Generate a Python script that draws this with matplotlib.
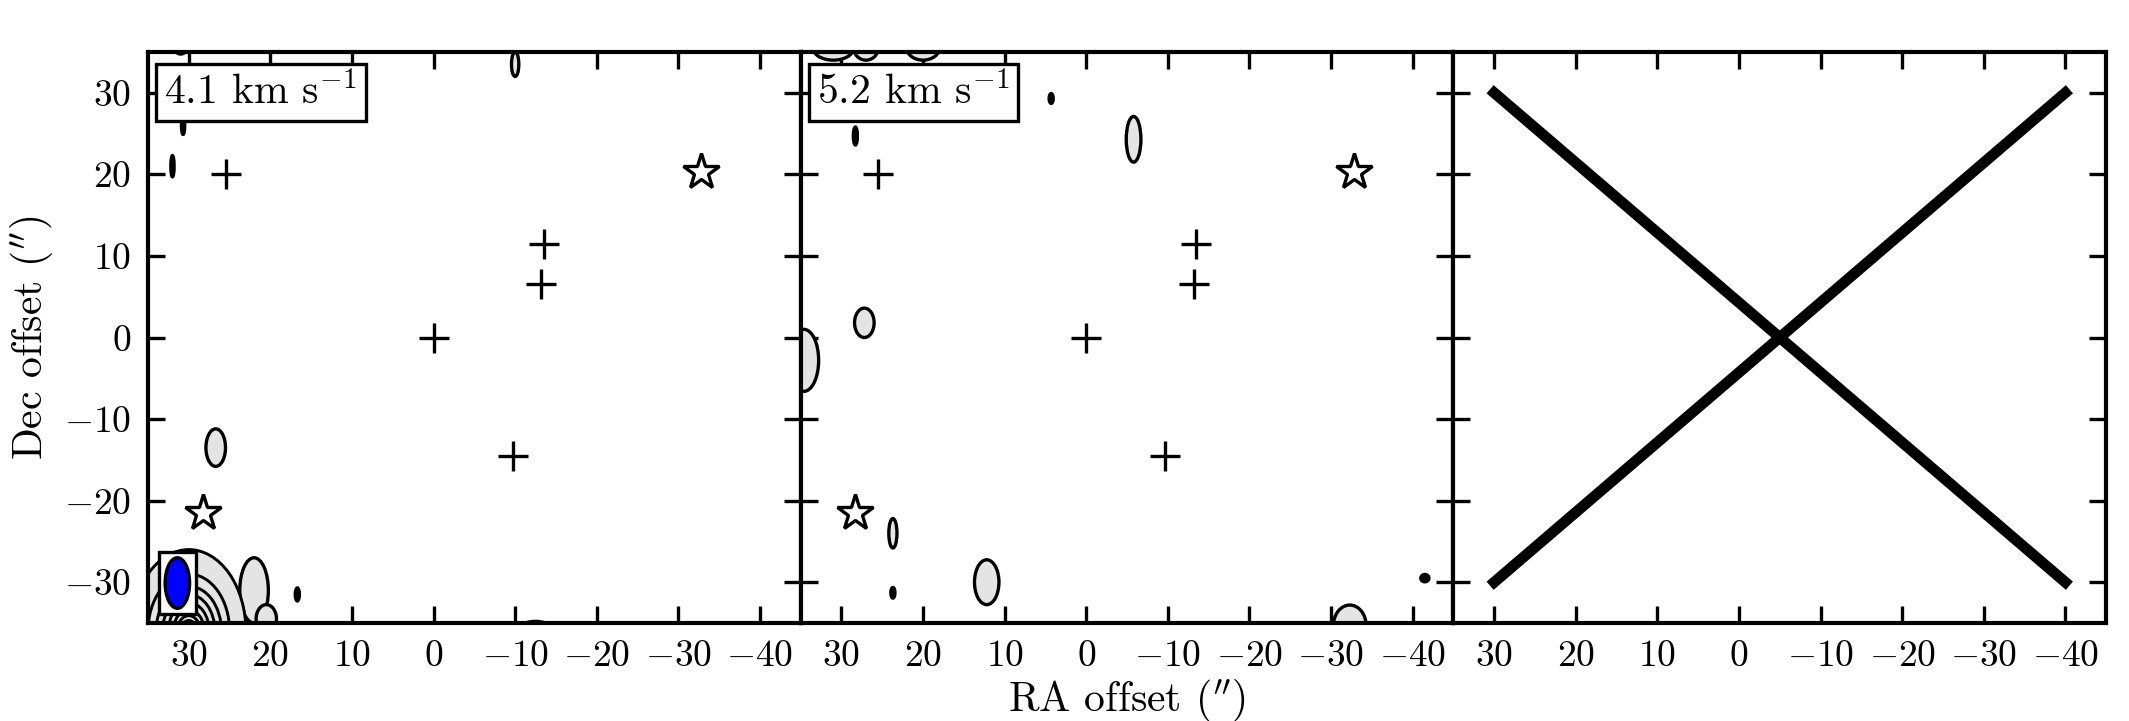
import matplotlib
matplotlib.use('Agg')
import matplotlib.pyplot as plt
from matplotlib.patches import Ellipse, Rectangle

plt.rcParams['font.family'] = 'serif'
plt.rcParams['font.serif'] = ['cmr10', 'DejaVu Serif']
plt.rcParams['mathtext.fontset'] = 'cm'
plt.rcParams['axes.formatter.use_mathtext'] = True
plt.rcParams['axes.unicode_minus'] = True

# positions of sources (RA, Dec offsets in arcsec)
plus_ra = [25.5, -13.5, -13.2, 0.0, -9.7]
plus_dec = [20.0, 11.5, 6.5, 0.0, -14.5]
star_ra = [-32.8, 28.3]
star_dec = [20.3, -21.5]

velocities = ['4.1', '5.2']

# emission blobs per channel: ra, dec, width, height, filled
blobs_41 = [
    (-10.0, 33.5, 0.9, 3.0, True),
    (26.7, -13.5, 2.4, 4.6, True),
    (22.0, -31.0, 3.5, 8.0, True),
    (20.5, -34.5, 2.5, 3.5, True),
    (16.7, -31.5, 0.5, 1.6, False),
    (30.7, 26.0, 0.4, 2.2, False),
    (32.0, 21.0, 0.4, 2.6, False),
    (-12.5, -35.3, 3.0, 1.0, True),
    (31.0, 36.0, 2.0, 2.5, False),
    (20.5, 36.0, 2.5, 2.0, False),
]
blobs_52 = [
    (4.3, 29.3, 0.5, 1.2, False),
    (-5.8, 24.3, 1.8, 5.6, True),
    (28.3, 24.7, 0.5, 2.2, False),
    (27.2, 1.8, 2.4, 3.6, True),
    (34.6, -2.8, 3.6, 7.6, True),
    (23.7, -24.0, 1.0, 3.6, True),
    (23.7, -31.3, 0.5, 1.3, False),
    (12.2, -30.0, 3.0, 5.5, True),
    (-32.3, -35.3, 4.0, 5.0, True),
    (-41.5, -29.5, 1.0, 0.9, False),
    (31.0, 35.5, 5.0, 3.0, True),
    (27.0, 35.5, 3.0, 3.0, True),
    (20.0, 35.5, 4.0, 3.0, True),
]
# nested contours of the bright source at bottom-left corner (channel 4.1)
corner_w = [14.0, 10.0, 8.0, 6.4, 5.0, 3.8, 2.8, 2.0, 1.3]
corner_h = [20.0, 14.0, 11.0, 9.0, 7.0, 5.2, 3.8, 2.6, 1.6]
corner_ra = 30.0
corner_dec = -36.0

x_ticks = [30, 20, 10, 0, -10, -20, -30, -40]
y_ticks = [-30, -20, -10, 0, 10, 20, 30]

cross_ra = [30, -40]
cross_dec1 = [30, -30]
cross_dec2 = [-30, 30]

fig = plt.figure(figsize=(2129 / 300, 721 / 300), dpi=300)

left = 148 / 2129
w = 652.7 / 2129
bottom = (721 - 623) / 721
h = 571 / 721

axes = []
for i in range(3):
    ax = fig.add_axes([left + i * w, bottom, w, h])
    ax.set_xlim(35, -45)
    ax.set_ylim(-35, 35)
    ax.set_xticks(x_ticks)
    ax.set_yticks(y_ticks)
    ax.tick_params(direction='in', top=True, right=True, length=4, width=0.8,
                   labelsize=9, pad=4)
    for s in ax.spines.values():
        s.set_linewidth(1.0)
    if i > 0:
        ax.set_yticklabels([])
    axes.append(ax)

gray = '#e4e4e4'
for ax, v, blobs in zip(axes[:2], velocities, [blobs_41, blobs_52]):
    for ra, dec, bw, bh, filled in blobs:
        ax.add_patch(Ellipse((ra, dec), bw, bh, facecolor=gray if filled else 'black',
                             edgecolor='black', lw=0.8, zorder=2))
    ax.plot(plus_ra, plus_dec, '+', color='black', ms=7, mew=0.8, zorder=4)
    ax.plot(star_ra, star_dec, '*', color='white', mec='black', ms=9, mew=0.8, zorder=4)
    ax.text(0.025, 0.965, v + r' km s$^{-1}$', transform=ax.transAxes, fontsize=10,
            va='top', ha='left', zorder=6,
            bbox=dict(boxstyle='square,pad=0.2', fc='white', ec='black', lw=0.8))

ax = axes[0]
for k, (cw, ch) in enumerate(zip(corner_w, corner_h)):
    ax.add_patch(Ellipse((corner_ra, corner_dec), cw, ch,
                         facecolor=gray if k == 0 else 'none',
                         edgecolor='black', lw=0.7, zorder=2))
# beam
ax.add_patch(Rectangle((29.1, -33.9), 4.6, 7.6, facecolor='white', edgecolor='black',
                       lw=0.8, zorder=5))
ax.add_patch(Ellipse((31.4, -30.1), 3.0, 6.2, facecolor='blue', edgecolor='black',
                     lw=0.8, zorder=6))

axes[2].plot(cross_ra, cross_dec1, color='black', lw=2.6)
axes[2].plot(cross_ra, cross_dec2, color='black', lw=2.6)

axes[0].set_ylabel(r"Dec offset ($''$)", fontsize=10, labelpad=2)
axes[1].set_xlabel(r"RA offset ($''$)", fontsize=10, labelpad=1)

fig.savefig('out.png', dpi=300)
